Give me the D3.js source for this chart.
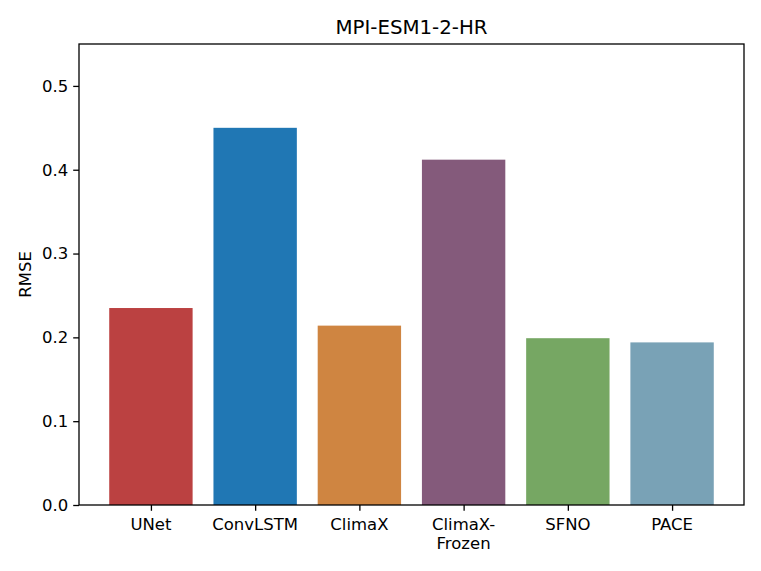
<!DOCTYPE html>
<html>
<head>
<meta charset="utf-8">
<script src="https://cdn.jsdelivr.net/npm/d3@7"></script>
<style>
  body { margin: 0; background: #fff; }
  text { font-family: "DejaVu Sans", sans-serif; fill: #000; }
</style>
</head>
<body>
<svg id="chart"></svg>
<script>
// data
const models = ["UNet", "ConvLSTM", "ClimaX", "ClimaX-\nFrozen", "SFNO", "PACE"];
const rmse = [0.235, 0.450, 0.214, 0.412, 0.199, 0.194];
const colors = ["#bb4141", "#2077b4", "#cf8541", "#845a7b", "#76a763", "#79a2b6"];
const yTicks = [0.0, 0.1, 0.2, 0.3, 0.4, 0.5];

const width = 761, height = 571;
const margin = { top: 44, right: 17, bottom: 66, left: 79 };
const plotW = width - margin.left - margin.right;
const plotH = height - margin.top - margin.bottom;

const svg = d3.select("#chart").attr("width", width).attr("height", height);
const g = svg.append("g").attr("transform", `translate(${margin.left},${margin.top})`);

// matplotlib-like positions: bars at 0..n-1, width 0.8, 5% margins
const n = models.length;
const pad = 0.05 * (n - 1 + 0.8);
const x = d3.scaleLinear().domain([-0.4 - pad, n - 1 + 0.4 + pad]).range([0, plotW]);
const y = d3.scaleLinear().domain([0, 0.55]).range([plotH, 0]);

g.selectAll("rect.bar")
    .data(rmse)
    .enter().append("rect")
    .attr("class", "bar")
    .attr("x", (d, i) => x(i - 0.4))
    .attr("width", x(0.8) - x(0))
    .attr("y", d => y(d))
    .attr("height", d => y(0) - y(d))
    .attr("fill", (d, i) => colors[i]);

// y axis
const yAxis = g.append("g")
    .call(d3.axisLeft(y).tickValues(yTicks).tickFormat(d3.format(".1f")).tickSize(5.8).tickPadding(5));
yAxis.selectAll("text").style("font-size", "16.5px");

// x axis
const xAxis = g.append("g")
    .attr("transform", `translate(0,${plotH})`)
    .call(d3.axisBottom(x).tickValues(d3.range(n)).tickFormat("").tickSize(5.8));

const labels = g.append("g").selectAll("text")
    .data(models)
    .enter().append("text")
    .attr("text-anchor", "middle")
    .attr("x", (d, i) => x(i))
    .attr("y", plotH + 25)
    .style("font-size", "16.5px");
labels.each(function(d) {
    const parts = d.split("\n");
    const t = d3.select(this);
    parts.forEach((p, k) => {
        t.append("tspan").attr("x", t.attr("x")).attr("dy", k === 0 ? 0 : "1.17em").text(p);
    });
});

[yAxis, xAxis].forEach(a => {
    a.select(".domain").remove();
    a.selectAll("line").attr("stroke", "#000").attr("stroke-width", 1.3);
});

// frame
g.append("rect")
    .attr("width", plotW).attr("height", plotH)
    .attr("fill", "none").attr("stroke", "#000").attr("stroke-width", 1.3);

// title and y label
svg.append("text")
    .attr("x", margin.left + plotW / 2)
    .attr("y", margin.top - 10)
    .attr("text-anchor", "middle")
    .style("font-size", "19.8px")
    .text("MPI-ESM1-2-HR");

svg.append("text")
    .attr("transform", `translate(31,${margin.top + plotH / 2}) rotate(-90)`)
    .attr("text-anchor", "middle")
    .style("font-size", "16.5px")
    .text("RMSE");
</script>
</body>
</html>
